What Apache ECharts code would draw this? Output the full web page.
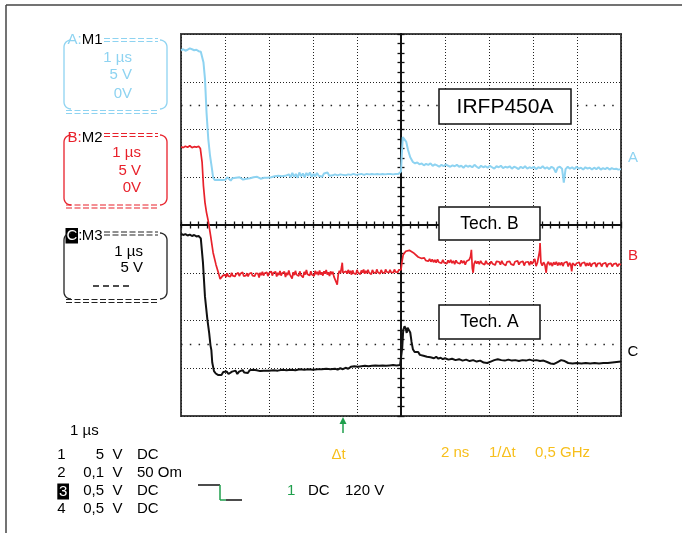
<!DOCTYPE html>
<html><head><meta charset="utf-8">
<script src="https://cdn.jsdelivr.net/npm/echarts@6/dist/echarts.min.js"></script>
<style>html,body{margin:0;padding:0;background:#fff}#c{width:682px;height:533px}</style>
</head><body><div id="c"></div>
<script>
// Time in µs relative to screen centre (1 µs/div), amplitude in screen divisions.
const traceA = [
 [-5.00,3.66],[-4.95,3.68],[-4.90,3.65],[-4.85,3.67],[-4.80,3.70],[-4.75,3.68],[-4.70,3.66],[-4.65,3.67],[-4.60,3.64],[-4.55,3.63],[-4.52,3.60],
 [-4.49,3.41],[-4.455,3.06],[-4.42,2.36],[-4.38,1.80],[-4.34,1.45],[-4.30,1.20],[-4.27,0.99],[-4.23,0.94],
 [-4.19,0.98],[-4.15,0.95],[-4.11,0.99],[-4.07,0.94],[-4.03,0.98],[-3.99,0.95],[-3.95,1.00],[-3.91,0.96],[-3.87,0.93],[-3.83,0.98],[-3.79,0.95],[-3.75,0.99],[-3.71,0.96],[-3.67,1.00],[-3.63,0.97],[-3.59,0.95],[-3.55,0.99],[-3.51,0.97],[-3.47,1.00],[-3.43,0.98],[-3.39,0.96],[-3.35,1.00],[-3.31,0.98],[-3.27,1.01],[-3.23,0.99],[-3.19,0.97],[-3.15,1.00],[-3.11,0.99],[-3.07,1.01],[-3.03,0.99],[-2.99,1.02],[-2.95,1.00],[-2.91,0.99],[-2.87,1.02],[-2.83,1.00],[-2.79,1.03],[-2.75,1.00],[-2.71,1.02],[-2.67,0.99],[-2.63,1.03],[-2.59,1.01],[-2.55,1.06],[-2.51,1.00],[-2.47,1.09],[-2.43,1.01],[-2.39,1.07],[-2.35,0.99],[-2.31,1.10],[-2.27,1.02],[-2.23,1.08],[-2.19,1.00],[-2.15,1.09],[-2.11,1.03],[-2.07,1.10],[-2.03,1.01],[-1.99,1.07],[-1.95,1.02],[-1.91,1.09],[-1.87,1.03],[-1.83,1.07],[-1.79,1.01],[-1.75,1.08],[-1.71,1.04],[-1.67,1.10],[-1.63,1.03],[-1.59,1.07],[-1.55,1.04],[-1.50,1.06],[-1.44,1.04],[-1.38,1.06],[-1.32,1.05],[-1.26,1.04],[-1.20,1.06],[-1.14,1.05],[-1.08,1.07],[-1.02,1.05],[-0.96,1.06],[-0.90,1.07],[-0.84,1.05],[-0.78,1.07],[-0.72,1.06],[-0.66,1.07],[-0.60,1.06],[-0.54,1.07],[-0.48,1.06],[-0.42,1.07],[-0.36,1.06],[-0.30,1.07],[-0.24,1.07],[-0.18,1.06],[-0.12,1.07],[-0.06,1.07],[-0.02,1.08],
 [0.00,1.12],[0.02,1.50],[0.04,1.84],[0.08,1.87],[0.12,1.74],[0.16,1.57],[0.21,1.42],[0.27,1.32],[0.32,1.29],[0.37,1.31],[0.42,1.27],[0.47,1.29],[0.52,1.25],[0.57,1.28],[0.62,1.26],[0.67,1.29],[0.72,1.24],[0.77,1.27],[0.82,1.25],[0.87,1.22],[0.92,1.26],[0.97,1.23],[1.02,1.27],[1.07,1.24],[1.12,1.22],[1.17,1.25],[1.22,1.23],[1.27,1.26],[1.32,1.22],[1.37,1.24],[1.42,1.20],[1.47,1.25],[1.52,1.22],[1.57,1.24],[1.62,1.21],[1.67,1.26],[1.72,1.22],[1.77,1.19],[1.82,1.24],[1.87,1.21],[1.92,1.23],[1.97,1.20],[2.02,1.24],[2.07,1.21],[2.12,1.18],[2.17,1.23],[2.22,1.21],[2.27,1.24],[2.32,1.19],[2.37,1.22],[2.42,1.20],[2.47,1.23],[2.52,1.18],[2.57,1.22],[2.62,1.20],[2.67,1.17],[2.72,1.22],[2.77,1.19],[2.82,1.23],[2.87,1.18],[2.92,1.21],[2.97,1.19],[3.02,1.22],[3.07,1.17],[3.12,1.21],[3.17,1.19],[3.22,1.23],[3.27,1.18],[3.32,1.21],[3.37,1.17],[3.42,1.22],[3.47,1.19],[3.52,1.10],[3.56,1.20],[3.61,1.22],[3.66,1.18],[3.70,0.89],[3.74,1.17],[3.79,1.22],[3.84,1.18],[3.89,1.21],[3.94,1.17],[3.99,1.22],[4.04,1.18],[4.09,1.20],[4.14,1.16],[4.19,1.21],[4.24,1.18],[4.29,1.20],[4.34,1.16],[4.39,1.20],[4.44,1.17],[4.49,1.21],[4.54,1.16],[4.59,1.19],[4.64,1.17],[4.69,1.20],[4.74,1.16],[4.79,1.19],[4.84,1.17],[4.89,1.18],[4.94,1.16],[5.00,1.17]
];
const traceB = [
 [-5.00,1.64],[-4.95,1.62],[-4.90,1.65],[-4.85,1.63],[-4.80,1.66],[-4.75,1.62],[-4.70,1.64],[-4.65,1.63],[-4.60,1.65],[-4.56,1.60],
 [-4.55,1.585],[-4.52,1.31],[-4.49,0.82],[-4.455,0.47],[-4.42,0.26],[-4.38,0.08],[-4.325,-0.24],[-4.27,-0.58],[-4.205,-0.83],[-4.15,-1.00],[-4.11,-1.13],[-4.05,-1.06],
 [-4.000,-1.04],[-3.975,-1.09],[-3.950,-1.01],[-3.925,-1.07],[-3.900,-1.03],[-3.875,-1.08],[-3.850,-1.00],[-3.825,-1.06],[-3.800,-1.02],[-3.775,-1.08],[-3.750,-1.03],[-3.725,-1.06],[-3.700,-1.00],[-3.675,-1.07],[-3.650,-1.02],[-3.625,-1.05],[-3.600,-0.99],[-3.575,-1.07],[-3.550,-1.03],[-3.525,-1.06],[-3.500,-1.01],[-3.475,-1.08],[-3.450,-1.02],[-3.425,-1.05],[-3.400,-1.00],[-3.375,-1.06],[-3.350,-1.02],[-3.325,-1.07],[-3.300,-1.01],[-3.275,-1.05],[-3.250,-1.02],[-3.225,-1.10],[-3.200,-1.00],[-3.175,-1.05],[-3.150,-0.98],[-3.125,-1.06],[-3.100,-1.01],[-3.075,-1.04],[-3.050,-0.99],[-3.025,-1.07],[-3.000,-1.01],[-2.975,-1.05],[-2.950,-0.97],[-2.925,-1.06],[-2.900,-1.00],[-2.875,-1.04],[-2.850,-0.98],[-2.825,-1.08],[-2.800,-1.00],[-2.775,-1.05],[-2.750,-0.96],[-2.725,-1.06],[-2.700,-1.01],[-2.675,-1.04],[-2.650,-0.98],[-2.625,-1.09],[-2.600,-1.00],[-2.575,-1.05],[-2.550,-0.95],[-2.525,-1.04],[-2.500,-1.00],[-2.475,-1.12],[-2.450,-0.99],[-2.425,-1.05],[-2.400,-0.96],[-2.375,-1.04],[-2.350,-1.00],[-2.325,-1.07],[-2.300,-0.97],[-2.275,-1.05],[-2.250,-1.01],[-2.225,-1.10],[-2.200,-0.98],[-2.175,-1.04],[-2.150,-0.94],[-2.125,-1.03],[-2.100,-0.99],[-2.075,-1.06],[-2.050,-0.97],[-2.025,-1.04],[-2.000,-1.00],[-1.975,-1.07],[-1.950,-0.96],[-1.925,-1.03],[-1.900,-0.98],[-1.875,-1.05],[-1.850,-0.95],[-1.825,-1.04],[-1.800,-0.99],[-1.775,-1.06],[-1.750,-0.97],[-1.725,-1.02],[-1.700,-0.94],[-1.675,-1.04],[-1.650,-0.99],[-1.625,-1.07],[-1.600,-0.97],[-1.575,-1.03],[-1.550,-0.98],[-1.525,-1.08],[-1.500,-1.12],[-1.475,-1.19],[-1.450,-1.25],[-1.425,-1.03],[-1.400,-0.96],[-1.375,-1.01],[-1.350,-0.88],[-1.335,-0.79],[-1.320,-1.00],[-1.300,-0.96],[-1.275,-1.03],[-1.250,-0.97],[-1.225,-1.02],[-1.200,-0.94],[-1.175,-1.01],[-1.150,-0.96],[-1.125,-1.04],[-1.100,-0.95],[-1.075,-1.01],[-1.050,-0.97],[-1.025,-1.03],[-1.000,-0.94],[-0.975,-1.00],[-0.950,-0.96],[-0.925,-1.03],[-0.900,-0.95],[-0.875,-1.00],[-0.850,-0.93],[-0.825,-1.02],[-0.800,-0.96],[-0.775,-1.01],[-0.750,-0.94],[-0.725,-1.00],[-0.700,-0.96],[-0.675,-1.03],[-0.650,-0.94],[-0.625,-0.99],[-0.600,-0.95],[-0.575,-1.01],[-0.550,-0.93],[-0.525,-0.99],[-0.500,-0.96],[-0.475,-1.02],[-0.450,-0.94],[-0.425,-0.99],[-0.400,-0.95],[-0.375,-1.01],[-0.350,-0.93],[-0.325,-0.98],[-0.300,-0.95],[-0.275,-1.00],[-0.250,-0.94],[-0.225,-0.99],[-0.200,-0.95],[-0.175,-1.00],[-0.150,-0.93],[-0.125,-0.98],[-0.100,-0.95],[-0.075,-0.99],[-0.050,-0.94],[-0.025,-0.98],
 [0.00,-0.94],[0.02,-0.79],[0.05,-0.62],[0.11,-0.55],[0.19,-0.53],[0.28,-0.58],[0.39,-0.67],[0.47,-0.70],[0.50,-0.72],
 [0.53,-0.69],[0.56,-0.74],[0.59,-0.70],[0.62,-0.76],[0.65,-0.71],[0.68,-0.77],[0.71,-0.72],[0.74,-0.78],[0.77,-0.73],[0.80,-0.79],[0.83,-0.72],[0.86,-0.78],[0.89,-0.74],[0.92,-0.80],[0.95,-0.73],[0.98,-0.79],[1.01,-0.75],[1.04,-0.81],[1.07,-0.74],[1.10,-0.79],[1.13,-0.73],[1.16,-0.80],[1.19,-0.75],[1.22,-0.82],[1.25,-0.74],[1.28,-0.79],[1.31,-0.76],[1.34,-0.81],[1.37,-0.74],[1.40,-0.80],[1.43,-0.75],[1.46,-0.83],[1.49,-0.76],[1.52,-0.80],[1.55,-0.73],[1.58,-0.66],[1.60,-0.52],[1.62,-0.90],[1.64,-1.00],[1.66,-0.82],[1.69,-0.75],[1.72,-0.81],[1.75,-0.76],[1.78,-0.82],[1.81,-0.75],[1.84,-0.80],[1.87,-0.77],[1.90,-0.83],[1.93,-0.75],[1.96,-0.81],[1.99,-0.77],[2.02,-0.82],[2.05,-0.76],[2.08,-0.81],[2.11,-0.78],[2.14,-0.84],[2.17,-0.76],[2.20,-0.80],[2.23,-0.77],[2.26,-0.83],[2.29,-0.75],[2.32,-0.81],[2.35,-0.78],[2.38,-0.85],[2.41,-0.77],[2.44,-0.81],[2.47,-0.76],[2.50,-0.82],[2.53,-0.78],[2.56,-0.84],[2.59,-0.77],[2.62,-0.81],[2.65,-0.75],[2.68,-0.83],[2.71,-0.78],[2.74,-0.82],[2.77,-0.76],[2.80,-0.85],[2.83,-0.78],[2.86,-0.81],[2.89,-0.77],[2.92,-0.84],[2.95,-0.76],[2.98,-0.82],[3.01,-0.78],[3.04,-0.71],[3.07,-0.86],[3.10,-0.79],[3.13,-0.82],[3.15,-0.55],[3.16,-0.38],[3.18,-0.79],[3.21,-0.85],[3.24,-0.78],[3.27,-0.83],[3.30,-1.00],[3.32,-0.82],[3.35,-0.77],[3.38,-0.84],[3.41,-0.79],[3.44,-0.86],[3.47,-0.78],[3.50,-0.83],[3.53,-0.77],[3.56,-0.85],[3.59,-0.79],[3.62,-0.84],[3.65,-0.78],[3.68,-0.86],[3.71,-0.79],[3.74,-0.83],[3.77,-0.77],[3.80,-0.87],[3.83,-0.79],[3.86,-0.84],[3.88,-0.97],[3.90,-0.80],[3.93,-0.76],[3.96,-0.85],[3.99,-0.80],[4.02,-0.84],[4.05,-0.78],[4.08,-0.87],[4.11,-0.80],[4.14,-0.84],[4.17,-0.78],[4.20,-0.86],[4.23,-0.80],[4.26,-0.85],[4.29,-0.79],[4.32,-0.87],[4.35,-0.81],[4.38,-0.84],[4.41,-0.79],[4.44,-0.88],[4.47,-0.81],[4.50,-0.85],[4.53,-0.80],[4.56,-0.87],[4.59,-0.81],[4.62,-0.85],[4.65,-0.79],[4.68,-0.88],[4.71,-0.82],[4.74,-0.85],[4.77,-0.80],[4.80,-0.87],[4.83,-0.82],[4.86,-0.86],[4.89,-0.80],[4.92,-0.87],[4.95,-0.82],[4.98,-0.85],[5.00,-0.83]
];
const traceC = [
 [-5.00,-0.18],[-4.95,-0.21],[-4.90,-0.19],[-4.85,-0.22],[-4.80,-0.20],[-4.75,-0.23],[-4.70,-0.21],[-4.65,-0.24],[-4.60,-0.23],[-4.56,-0.25],
 [-4.55,-0.28],[-4.50,-0.80],[-4.455,-1.50],[-4.40,-1.98],[-4.36,-2.26],[-4.33,-2.52],[-4.31,-2.62],[-4.29,-2.88],[-4.25,-3.06],[-4.21,-3.11],[-4.16,-3.14],
 [-4.12,-3.10],[-4.08,-3.14],[-4.04,-3.08],[-4.00,-3.12],[-3.96,-3.07],[-3.92,-3.12],[-3.88,-3.14],[-3.84,-3.07],[-3.80,-3.11],[-3.76,-3.05],[-3.72,-3.12],[-3.68,-3.07],[-3.64,-3.11],[-3.60,-3.04],[-3.56,-3.09],[-3.52,-3.05],[-3.48,-3.10],[-3.44,-3.04],[-3.40,-3.08],[-3.36,-3.03],[-3.32,-3.07],[-3.28,-3.04],[-3.24,-3.03],[-3.20,-3.06],[-3.16,-3.04],[-3.12,-3.05],[-3.08,-3.03],[-3.00,-3.05],[-2.90,-3.04],[-2.80,-3.05],[-2.70,-3.03],[-2.60,-3.04],[-2.50,-3.03],[-2.40,-3.04],[-2.30,-3.02],[-2.20,-3.03],[-2.10,-3.02],[-2.00,-3.03],[-1.90,-3.02],[-1.80,-3.02],[-1.70,-3.01],[-1.60,-3.02],[-1.50,-3.01],[-1.44,-3.03],[-1.38,-3.00],[-1.32,-3.02],[-1.26,-2.99],[-1.20,-3.01],[-1.14,-2.97],[-1.10,-3.01],[-1.06,-2.96],[-1.02,-3.00],[-0.98,-2.97],[-0.94,-3.00],[-0.90,-2.96],[-0.86,-2.99],[-0.82,-2.95],[-0.78,-2.98],[-0.74,-2.96],[-0.70,-2.99],[-0.66,-2.95],[-0.62,-2.98],[-0.58,-2.94],[-0.54,-2.97],[-0.50,-2.95],[-0.46,-2.98],[-0.42,-2.94],[-0.38,-2.97],[-0.34,-2.95],[-0.30,-2.97],[-0.26,-2.94],[-0.22,-2.96],[-0.18,-2.93],[-0.14,-2.96],[-0.10,-2.94],[-0.06,-2.95],[-0.02,-2.93],
 [0.00,-2.90],[0.03,-2.55],[0.05,-2.20],[0.08,-2.12],[0.11,-2.18],[0.13,-2.26],[0.15,-2.15],[0.18,-2.13],[0.21,-2.25],[0.24,-2.45],[0.27,-2.60],[0.31,-2.66],[0.35,-2.70],[0.39,-2.66],[0.43,-2.72],[0.47,-2.68],[0.51,-2.74],[0.55,-2.70],[0.59,-2.76],[0.63,-2.72],[0.67,-2.77],[0.71,-2.74],[0.75,-2.79],[0.80,-2.76],[0.85,-2.80],[0.90,-2.78],[0.95,-2.81],[1.00,-2.79],[1.08,-2.82],[1.16,-2.80],[1.24,-2.83],[1.32,-2.81],[1.40,-2.84],[1.48,-2.82],[1.56,-2.85],[1.64,-2.83],[1.72,-2.86],[1.80,-2.84],[1.88,-2.88],[1.96,-2.89],[2.04,-2.86],[2.12,-2.83],[2.20,-2.81],[2.28,-2.83],[2.36,-2.84],[2.44,-2.82],[2.52,-2.84],[2.60,-2.83],[2.68,-2.85],[2.76,-2.83],[2.84,-2.84],[2.92,-2.82],[3.00,-2.84],[3.08,-2.83],[3.16,-2.85],[3.24,-2.84],[3.32,-2.87],[3.40,-2.90],[3.48,-2.91],[3.56,-2.87],[3.64,-2.83],[3.72,-2.85],[3.80,-2.89],[3.90,-2.90],[4.00,-2.89],[4.10,-2.90],[4.20,-2.89],[4.30,-2.90],[4.40,-2.89],[4.50,-2.90],[4.60,-2.89],[4.70,-2.89],[4.80,-2.88],[4.90,-2.87],[5.00,-2.86]
];
const levelMarks = [2.5, -2.5];
const traceLetters = ['A', 'B', 'C'];
const boxTitles = ['IRFP450A', 'Tech. B', 'Tech. A'];
const mathLabels = ['M1', 'M2', 'M3'];
const mathScales = [['1 µs', '5 V', '0V'], ['1 µs', '5 V', '0V'], ['1 µs', '5 V']];
const timebase = '1 µs';
const chNums = ['1', '2', '3', '4'];
const chVolts = ['5', '0,1', '0,5', '0,5'];
const chCoupling = ['DC', '50 Om', 'DC', 'DC'];
const trigInfo = ['1', 'DC', '120 V'];
const cursorInfo = ['Δt', '2 ns', '1/Δt', '0,5 GHz'];

const colA = '#8ed3f1', colB = '#e8212b', colC = '#111111', colY = '#f7bf1c', colG = '#1f9f4c';
const FF = '"Liberation Sans", Arial, sans-serif';

const els = [];
function txt(x, y, s, color, size, align, extra) {
  els.push(Object.assign({type: 'text', x: x, y: y, z: 100, silent: true,
    style: {text: s, fill: color, font: size + 'px ' + FF, align: align || 'left', verticalAlign: 'middle'}}, extra || {}));
}
function ln(x1, y1, x2, y2, color, w, dash) {
  els.push({type: 'line', z: 100, silent: true, shape: {x1: x1, y1: y1, x2: x2, y2: y2},
    style: {stroke: color, lineWidth: w, lineDash: dash || null}});
}
function rect(x, y, w, h, fill, stroke, lw) {
  els.push({type: 'rect', z: 99, silent: true, shape: {x: x, y: y, width: w, height: h},
    style: {fill: fill, stroke: stroke || null, lineWidth: lw || 0}});
}
function bracket(L, R, yT, yB, r, color) {
  const left = [], right = [], n = 8;
  for (let i = 0; i <= n; i++) { const t = Math.PI / 2 * i / n; left.push([L + r - r * Math.sin(t), yT + r - r * Math.cos(t)]); }
  for (let i = 0; i <= n; i++) { const t = Math.PI / 2 * i / n; left.push([L + r - r * Math.cos(t), yB - r + r * Math.sin(t)]); }
  for (let i = 0; i <= n; i++) { const t = Math.PI / 2 * i / n; right.push([R - r + r * Math.sin(t), yT + r - r * Math.cos(t)]); }
  for (let i = 0; i <= n; i++) { const t = Math.PI / 2 * i / n; right.push([R - r + r * Math.cos(t), yB - r + r * Math.sin(t)]); }
  [left, right].forEach(p => els.push({type: 'polyline', z: 100, silent: true, shape: {points: p},
    style: {stroke: color, lineWidth: 1.3, fill: null}}));
}

// outer frame
ln(6, 5, 682, 5, '#444', 1.5); ln(6, 5, 6, 533, '#444', 1.5);

// left panel boxes
const boxCfg = [
  {col: colA, yT: 40, yB: 109, top: [38.5, 41.5], bot: [110.5, 113.5], yLab: 40, ys: [58, 75, 94], xr: 132},
  {col: colB, yT: 135, yB: 205, top: [133.5, 136.5], bot: [205, 208], yLab: 138, ys: [153, 171, 188], xr: 141},
  {col: '#222', yT: 233, yB: 299, top: [232, 235], bot: [299.5, 302.5], yLab: 235.5, ys: [252, 268], xr: 143}
];
boxCfg.forEach((b, i) => {
  bracket(64, 167, b.yT, b.yB, 7, b.col);
  b.top.forEach(y => ln(104, y, 158, y, b.col, 1.2, [6, 2.5]));
  b.bot.forEach(y => ln(66, y, 158, y, b.col, 1.2, [6, 2.5]));
  if (i < 2) {
    txt(67.5, b.yLab, traceLetters[i] + ':', b.col, 15);
  } else {
    rect(65.5, 228, 12.5, 15.5, '#000');
    txt(71.8, b.yLab, traceLetters[i], '#fff', 15, 'center');
    els[els.length - 1].z = 101;
    txt(78.2, b.yLab, ':', '#000', 15);
  }
  txt(81.8, b.yLab, mathLabels[i], '#000', 15);
  mathScales[i].forEach((s, k) => txt(b.xr, b.ys[k], s, i < 2 ? b.col : '#000', 15, 'right'));
});
ln(93, 286, 133, 286, '#111', 1.3, [6, 4]);

// bottom status text
txt(70, 431, timebase, '#000', 15);
const rowY = [455, 472.5, 491, 509];
chNums.forEach((n, i) => {
  if (i === 2) { rect(57.3, 483.5, 11.7, 16, '#000'); txt(63.2, rowY[i] + 0.5, n, '#fff', 15, 'center'); els[els.length - 1].z = 101; }
  else txt(61.5, rowY[i], n, '#000', 15, 'center');
  txt(104, rowY[i], chVolts[i], '#000', 15, 'right');
  txt(112.5, rowY[i], 'V', '#000', 15);
  txt(137, rowY[i], chCoupling[i], '#000', 15);
});
// trigger slope symbol
ln(198, 485, 220, 485, '#111', 1.5); ln(220, 485, 220, 500, colG, 1.5);
ln(220, 500, 226, 500, colG, 1.5); ln(226, 500, 242, 500, '#111', 1.5);
txt(287, 491, trigInfo[0], colG, 15); txt(308, 491, trigInfo[1], '#000', 15); txt(345, 491, trigInfo[2], '#000', 15);
// trigger position arrow
ln(343, 433, 343, 422, colG, 1.5);
els.push({type: 'polygon', z: 100, silent: true, shape: {points: [[339.5, 424], [346.5, 424], [343, 417]]}, style: {fill: colG}});
txt(338.5, 455, cursorInfo[0], colY, 15, 'center');
txt(441, 453, cursorInfo[1], colY, 15); txt(489, 453, cursorInfo[2], colY, 15); txt(535, 453, cursorInfo[3], colY, 15);

// boxed titles over the grid
const titleBoxes = [[439, 89, 132, 35, 21], [439, 207, 101, 33, 17.5], [439, 305, 101, 34, 17.5]];
titleBoxes.forEach((b, i) => {
  rect(b[0], b[1], b[2], b[3], '#fff', '#111', 1.5);
  txt(b[0] + b[2] / 2, b[1] + b[3] / 2 + 0.5, boxTitles[i], '#000', b[4], 'center');
});
// trace letters on the right
const letterY = [158, 256, 352];
[colA, colB, '#000'].forEach((c, i) => txt(633, letterY[i], traceLetters[i], c, 15, 'center'));

const tickLS = {color: '#111', width: 1.3};
function axisCommon(min, max, pos, inside, split) {
  return {type: 'value', min: min, max: max, interval: 1, position: pos,
    axisLine: {show: true, onZero: true, onZeroAxisIndex: 0, lineStyle: {color: '#111', width: 1.8}},
    axisTick: {show: true, inside: inside, length: 3.5, lineStyle: tickLS},
    minorTick: {show: true, splitNumber: 5, length: 3.5, lineStyle: tickLS},
    axisLabel: {show: false},
    splitLine: {show: split, lineStyle: {color: '#222', width: 1, type: [1, 2]}},
    minorSplitLine: {show: false}};
}

const chart = echarts.init(document.getElementById('c'), null, {renderer: 'canvas'});
chart.setOption({
  animation: false,
  backgroundColor: '#fff',
  grid: {left: 181, top: 34, width: 440, height: 382, show: true, borderColor: '#444', borderWidth: 2, backgroundColor: 'transparent'},
  xAxis: [axisCommon(-5, 5, 'bottom', false, true), axisCommon(-5, 5, 'bottom', true, false)],
  yAxis: [axisCommon(-4, 4, 'left', false, true), axisCommon(-4, 4, 'left', true, false)],
  series: [
    {type: 'line', name: 'A', data: traceA, symbol: 'none', silent: true, z: 3,
     lineStyle: {color: colA, width: 2}, itemStyle: {color: colA},
     markLine: {silent: true, symbol: ['none', 'none'], label: {show: false},
       lineStyle: {color: '#222', width: 1.3, type: [1.5, 7.3]},
       data: levelMarks.map(v => ({yAxis: v}))}},
    {type: 'line', name: 'B', data: traceB, symbol: 'none', silent: true, z: 4,
     lineStyle: {color: colB, width: 1.7}, itemStyle: {color: colB}},
    {type: 'line', name: 'C', data: traceC, symbol: 'none', silent: true, z: 5,
     lineStyle: {color: colC, width: 2}, itemStyle: {color: colC}}
  ],
  graphic: {elements: els}
});
</script>
</body></html>
